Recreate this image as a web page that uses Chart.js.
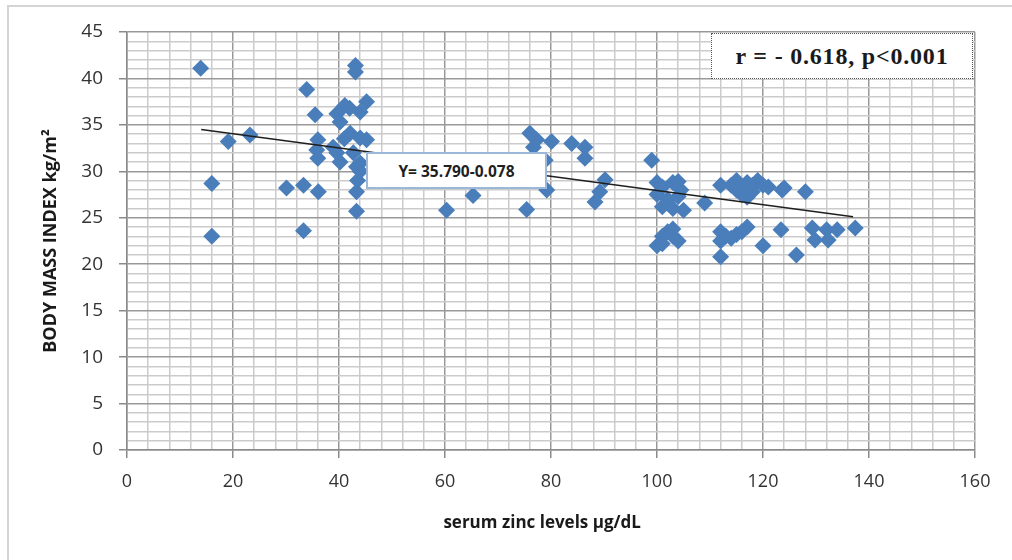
<!DOCTYPE html>
<html>
<head>
<meta charset="utf-8">
<script src="https://cdn.jsdelivr.net/npm/chart.js@4.4.1/dist/chart.umd.min.js"></script>
<style>
  html, body { margin: 0; padding: 0; background: #ffffff; overflow: hidden; }
  #wrap { position: relative; width: 1012px; height: 560px; }
  #frame { position: absolute; left: 7px; top: 5px; width: 1100px; height: 700px;
           border-left: 2px solid #d4d4d4; border-top: 2px solid #d4d4d4; }
  canvas { position: absolute; left: 0; top: 0; }
  .eq { position: absolute; left: 366px; top: 152px; width: 177px; height: 33px;
        background: #fff; border: 2px solid #9bb7d9; box-sizing: content-box;
        font: bold 15.5px 'Open Sans', sans-serif; color: #1f1f1f;
        display: flex; align-items: center; justify-content: center; }
  .rbox { position: absolute; left: 711px; top: 33px; width: 260px; height: 44px;
          background: #fff; border: 1px dotted #555;
          font: bold 24px 'Liberation Serif', serif; letter-spacing: 0.8px; color: #1a1a1a;
          display: flex; align-items: center; justify-content: center; }
</style>
</head>
<body>
<div id="wrap">
  <div id="frame"></div>
  <canvas id="c" width="1012" height="560"></canvas>
  <div class="eq">Y= 35.790-0.078</div>
  <div class="rbox">r = - 0.618, p&lt;0.001</div>
</div>
<script>
// Serum zinc (µg/dL) values
const zincX = [
  13.9, 16, 16, 19.1, 23.2, 30.1, 33.3, 33.3, 33.9, 35.5, 36, 35.8, 36, 36.1,
  38.9, 39.6, 40.2, 39.6, 40.2, 41.1, 42, 42.1, 42.7, 43.1, 43.1, 43.3, 43.3,
  43.3, 44, 45.2, 44, 45.2, 44, 44, 43.5, 41,
  60.3, 65.3, 75.4, 76, 77.3, 76.7, 78.9, 80.1, 79.2, 83.9, 86.4, 86.4, 90.2, 89.2, 88.3,
  99, 100, 101, 103, 104, 100, 102, 104, 101, 103, 105, 102, 104.5,
  109, 100, 101, 102, 103, 104, 103, 101,
  112, 114, 115, 116, 117, 118, 119, 120, 116, 118, 115, 117, 121,
  124, 123.6, 128,
  112, 113, 114, 115, 116, 117, 112, 112, 120, 123.4, 126.3,
  129.3, 129.8, 132, 132.3, 134, 137.4
];
// Body mass index (kg/m²) values
const bmiY = [
  41.1, 28.7, 23, 33.2, 33.9, 28.2, 28.5, 23.6, 38.8, 36.1, 33.4, 32.3, 31.4, 27.8,
  32.6, 32, 31, 36.2, 35.3, 37.1, 36.8, 34.1, 32, 41.4, 40.7, 27.8, 25.7,
  30.5, 36.4, 37.5, 33.6, 33.4, 30.9, 30, 29, 33.5,
  25.8, 27.4, 25.9, 34.1, 33.4, 32.6, 31.2, 33.2, 28, 33, 32.6, 31.4, 29.1, 27.8, 26.7,
  31.2, 28.8, 28.3, 28.8, 28.9, 27.5, 27, 27.3, 26.2, 26, 25.8, 26.6, 28,
  26.6, 22, 22.2, 23.5, 23, 22.5, 23.8, 23,
  28.5, 28.5, 29, 28.2, 28.8, 28.5, 29, 28.5, 27.5, 27.8, 28, 27.2, 28.3,
  28.2, 28, 27.8,
  23.5, 23, 22.8, 23.2, 23.5, 24, 22.5, 20.8, 22, 23.7, 21,
  23.9, 22.6, 23.7, 22.6, 23.7, 23.9
];
// Trend line end points
const trendX = [14, 137];
const trendY = [34.5, 25.1];

const xTicksMajor = [0, 20, 40, 60, 80, 100, 120, 140, 160];
const yTicksMajor = [0, 5, 10, 15, 20, 25, 30, 35, 40, 45];
const xTitle = 'serum zinc levels μg/dL    ';
const yTitle = 'BODY MASS INDEX kg/m²';

const points = zincX.map((x, i) => ({ x: x, y: bmiY[i] }));
const trend = trendX.map((x, i) => ({ x: x, y: trendY[i] }));

const isMajorX = v => xTicksMajor.includes(v);
const isMajorY = v => yTicksMajor.includes(v);

new Chart(document.getElementById('c'), {
  type: 'scatter',
  data: {
    datasets: [
      {
        label: 'trend',
        data: trend,
        showLine: true,
        borderColor: '#1f1f1f',
        borderWidth: 1.5,
        pointRadius: 0,
        fill: false
      },
      {
        label: 'BMI',
        data: points,
        pointStyle: 'rectRot',
        pointRadius: 8.5,
        pointBackgroundColor: '#4a7ebb',
        pointBorderColor: '#4a7ebb',
        pointBorderWidth: 0
      }
    ]
  },
  options: {
    responsive: false,
    animation: false,
    devicePixelRatio: 1,
    layout: { padding: { left: 0, top: 32, right: 37, bottom: 0 } },
    plugins: { legend: { display: false }, tooltip: { enabled: false } },
    scales: {
      x: {
        type: 'linear',
        min: 0, max: 160,
        afterFit: s => { s.height = 110; },
        ticks: {
          stepSize: 4,
          autoSkip: false,
          maxRotation: 0,
          padding: 13,
          color: '#333333',
          font: { family: "'Open Sans', sans-serif", size: 18 },
          callback: v => isMajorX(v) ? String(v) : ''
        },
        grid: {
          color: c => isMajorX(c.tick.value) ? '#999999' : '#cbcbcb',
          lineWidth: 1.5,
          tickLength: 8,
          tickColor: c => isMajorX(c.tick.value) ? '#8a8a8a' : 'rgba(0,0,0,0)'
        },
        border: { color: '#8a8a8a', width: 1.5 },
        title: {
          display: true,
          text: xTitle,
          color: '#1a1a1a',
          font: { family: "'Open Sans', sans-serif", size: 17, weight: 'bold' },
          padding: { top: 0, bottom: 27 }
        }
      },
      y: {
        type: 'linear',
        min: 0, max: 45,
        afterFit: s => { s.width = 127; },
        ticks: {
          stepSize: 1,
          autoSkip: false,
          padding: 16,
          color: '#333333',
          font: { family: "'Open Sans', sans-serif", size: 19 },
          callback: v => isMajorY(v) ? String(v) : ''
        },
        grid: {
          color: c => isMajorY(c.tick.value) ? '#999999' : '#cbcbcb',
          lineWidth: 1.5,
          tickLength: 8,
          tickColor: c => isMajorY(c.tick.value) ? '#8a8a8a' : 'rgba(0,0,0,0)'
        },
        border: { color: '#8a8a8a', width: 1.5 },
        title: {
          display: true,
          text: yTitle,
          color: '#1a1a1a',
          font: { family: "'Open Sans', sans-serif", size: 18, weight: 'bold' },
          padding: { top: 40, bottom: 0 }
        }
      }
    }
  }
});
</script>
</body>
</html>
